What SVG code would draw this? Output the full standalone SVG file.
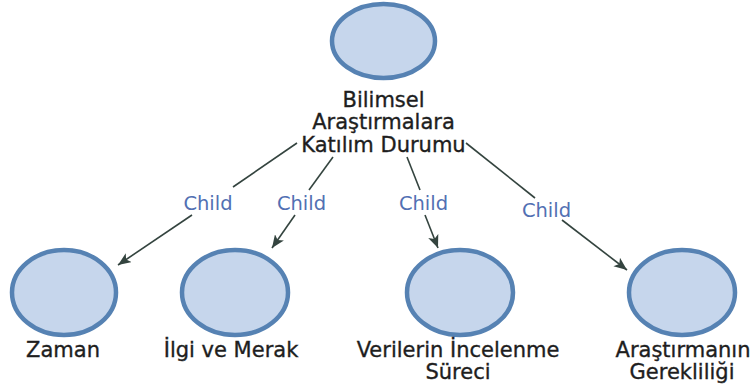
<svg xmlns="http://www.w3.org/2000/svg" width="753" height="389" viewBox="0 0 753 389">
<defs>
<marker id="arr" viewBox="0 0 12 10" refX="12" refY="5" markerWidth="13" markerHeight="11" markerUnits="userSpaceOnUse" orient="auto">
<path d="M0,0 L12,5 L0,10 L3,5 z" fill="#34443f"/>
</marker>
</defs>
<style>
.node{fill:#c6d6ec;stroke:#5682b3;stroke-width:4.5}
.lbl{font-family:"DejaVu Sans",sans-serif;font-size:21px;fill:#1e1e1e;stroke:#1e1e1e;stroke-width:0.35;text-anchor:middle}
.edge{fill:none;stroke:#34443f;stroke-width:1.6}
.el{font-family:"DejaVu Sans",sans-serif;font-size:19.5px;fill:#5270b3;text-anchor:middle}
</style>
<rect width="753" height="389" fill="#ffffff"/>
<g id="connectors">
<path class="edge" d="M297,143 L233,187"/>
<path class="edge" d="M192,215 L118,265" marker-end="url(#arr)"/>
<text class="el" x="208" y="210">Child</text>
<path class="edge" d="M333,157 L309,190"/>
<path class="edge" d="M295,215 L272,248" marker-end="url(#arr)"/>
<text class="el" x="301.5" y="210">Child</text>
<path class="edge" d="M407,157 L420,190"/>
<path class="edge" d="M425,215 L438,248" marker-end="url(#arr)"/>
<text class="el" x="423.5" y="210">Child</text>
<path class="edge" d="M466,143 L535,198"/>
<path class="edge" d="M562,220 L627,270" marker-end="url(#arr)"/>
<text class="el" x="546.5" y="217">Child</text>
</g>
<g id="root">
<ellipse class="node" cx="383.5" cy="41" rx="51.5" ry="37"/>
<text class="lbl" x="383.5" y="107">Bilimsel</text>
<text class="lbl" x="383.5" y="129">Araştırmalara</text>
<text class="lbl" x="383.5" y="152">Katılım Durumu</text>
</g>
<g id="zaman">
<ellipse class="node" cx="64" cy="292.5" rx="52" ry="42.5"/>
<text class="lbl" x="63" y="357">Zaman</text>
</g>
<g id="ilgi">
<ellipse class="node" cx="235" cy="292.5" rx="53" ry="42.5"/>
<text class="lbl" x="231" y="357">İlgi ve Merak</text>
</g>
<g id="verilerin">
<ellipse class="node" cx="460" cy="292.5" rx="53" ry="42.5"/>
<text class="lbl" x="458" y="357">Verilerin İncelenme</text>
<text class="lbl" x="458" y="379">Süreci</text>
</g>
<g id="arastirmanin">
<ellipse class="node" cx="682" cy="292.5" rx="53" ry="42.5"/>
<text class="lbl" x="683" y="357">Araştırmanın</text>
<text class="lbl" x="682" y="379">Gerekliliği</text>
</g>
</svg>
